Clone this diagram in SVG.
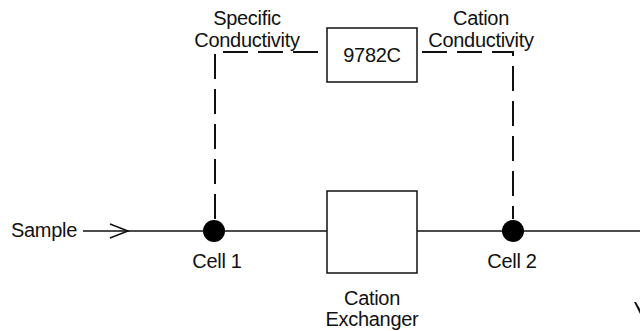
<svg xmlns="http://www.w3.org/2000/svg" width="640" height="331" viewBox="0 0 640 331">
<style>
text{font-family:"Liberation Sans",Arial,sans-serif;font-size:20px;letter-spacing:-0.3px;fill:#111;text-anchor:middle}
.box{fill:#fff;stroke:#111;stroke-width:1.5}
.line{fill:none;stroke:#111;stroke-width:1.5}
.dash{fill:none;stroke:#111;stroke-width:2;stroke-dasharray:25 10}
.dot{fill:#000}
</style>
<g id="connectors">
<line class="line" x1="83" y1="231" x2="640" y2="231"/>
<path class="line" d="M110,224 L128,231 L110,238" stroke-width="2"/>
<path class="dash" d="M215,219 V52 H327"/>
<path class="dash" d="M422,52 H513 V219"/>
</g>
<g id="sample"><text x="44" y="237">Sample</text></g>
<g id="cell1">
<circle class="dot" cx="214" cy="231" r="11"/>
<text x="217" y="268">Cell 1</text>
</g>
<g id="cell2">
<circle class="dot" cx="513" cy="231" r="11"/>
<text x="512" y="268">Cell 2</text>
</g>
<g id="exchanger">
<rect class="box" x="327" y="191" width="90" height="82"/>
<text x="372" y="305">Cation</text>
<text x="372" y="326">Exchanger</text>
</g>
<g id="meter">
<rect class="box" x="327" y="28" width="90" height="54"/>
<text x="372" y="62">9782C</text>
</g>
<g id="specific-label">
<text x="247" y="25">Specific</text>
<text x="247" y="47">Conductivity</text>
</g>
<g id="cation-label">
<text x="481" y="25">Cation</text>
<text x="481" y="47">Conductivity</text>
</g>
<polygon points="634,302 636,302 640,309 640,314" fill="#111"/>
</svg>
